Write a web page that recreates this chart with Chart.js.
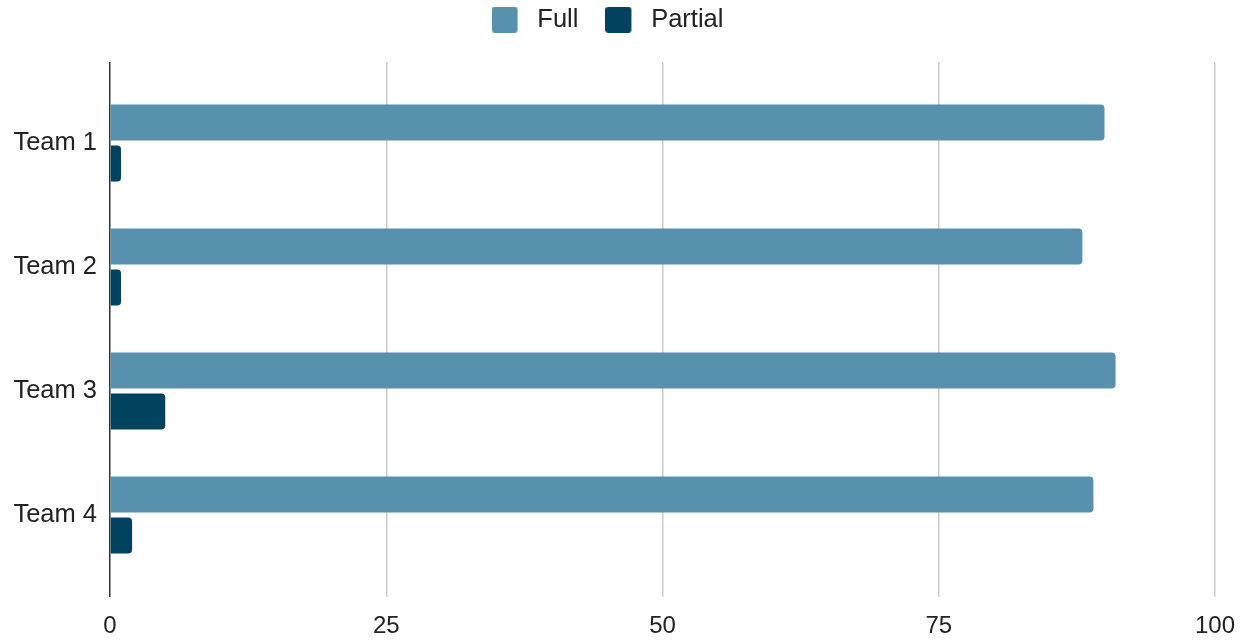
<!DOCTYPE html>
<html>
<head>
<meta charset="utf-8">
<script src="https://cdn.jsdelivr.net/npm/chart.js@4"></script>
<style>
  html, body { margin: 0; padding: 0; background: #fff; }
  #wrap { width: 1242px; height: 640px; }
</style>
</head>
<body>
<div id="wrap"><canvas id="chart" width="1242" height="640"></canvas></div>
<script>
// data
const teams = ['Team 1', 'Team 2', 'Team 3', 'Team 4'];
const fullValues = [90, 88, 91, 89];
const partialValues = [1, 1, 5, 2];
const xTicks = [0, 25, 50, 75, 100];

const COLORS = { full: '#5891ad', partial: '#01435e', grid: '#cccccc', zero: '#333333', text: '#222222' };

// legend swatch: rounded square with a transparent strip on the right (spacing before the text)
function swatch(color) {
  const c = document.createElement('canvas');
  c.width = 33; c.height = 26;
  const g = c.getContext('2d');
  g.fillStyle = color;
  g.beginPath();
  g.roundRect(0, 0, 26, 26, 3);
  g.fill();
  return c;
}
const swatches = [swatch(COLORS.full), swatch(COLORS.partial)];

const gridColor = ctx => (ctx.tick && ctx.tick.value === 0 ? COLORS.zero : COLORS.grid);

// keep the plot area fixed: no automatic label overhang padding
const noPad = s => { s.paddingLeft = 0; s.paddingRight = 0; s.paddingTop = 0; s.paddingBottom = 0; };

Chart.defaults.font.family = '"Liberation Sans", Arial, sans-serif';
Chart.defaults.font.size = 24;
Chart.defaults.color = COLORS.text;

new Chart(document.getElementById('chart'), {
  type: 'bar',
  data: {
    labels: teams,
    datasets: [
      { label: 'Full', data: fullValues, backgroundColor: COLORS.full },
      { label: 'Partial', data: partialValues, backgroundColor: COLORS.partial },
    ]
  },
  options: {
    indexAxis: 'y',
    animation: false,
    responsive: false,
    layout: { padding: { top: -20, right: 27, bottom: 0, left: 0 } },
    datasets: {
      bar: {
        barPercentage: 0.878,
        categoryPercentage: 0.66,
        borderRadius: 4,
        borderSkipped: 'start',
      }
    },
    scales: {
      x: {
        min: 0, max: 100,
        afterBuildTicks: s => { s.ticks = xTicks.map(v => ({ value: v })); },
        grid: { color: gridColor, lineWidth: 1.5, tickLength: 20 },
        border: { display: false },
        ticks: { padding: 15 },
        afterFit: s => { noPad(s); s.height = 63; }
      },
      x2: {
        position: 'top',
        min: 0, max: 100,
        afterBuildTicks: s => { s.ticks = xTicks.map(v => ({ value: v })); },
        grid: { color: gridColor, lineWidth: 1.5, tickLength: 19, drawOnChartArea: false },
        border: { display: false },
        ticks: { display: false },
        afterFit: s => { noPad(s); s.height = 38.5; }
      },
      y: {
        grid: { display: false, drawTicks: false },
        border: { display: false },
        ticks: { padding: 13, font: { size: 25.5 } },
        afterFit: s => { noPad(s); s.width = 110; }
      }
    },
    plugins: {
      legend: {
        position: 'top',
        labels: {
          usePointStyle: true,
          pointStyleWidth: 33,
          padding: 27,
          font: { size: 25.5 },
          generateLabels: chart => {
            const items = Chart.defaults.plugins.legend.labels.generateLabels(chart);
            items.forEach((it, i) => { it.pointStyle = swatches[i]; });
            return items;
          }
        }
      },
      tooltip: { enabled: false }
    }
  }
});
</script>
</body>
</html>
